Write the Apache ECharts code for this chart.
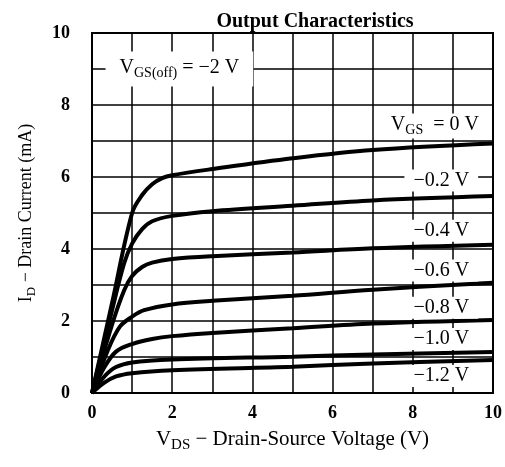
<!DOCTYPE html>
<html>
<head>
<meta charset="utf-8">
<script src="https://cdn.jsdelivr.net/npm/echarts@6/dist/echarts.min.js"></script>
<style>
  html, body { margin: 0; padding: 0; background: #fff; }
  #chart { width: 505px; height: 467px; }
</style>
</head>
<body>
<div id="chart"></div>
<script>
// drain characteristic curves, [V_DS, I_D in mA]
const vgs0 = [[0, 0], [0.5, 2.5], [1, 5.0], [1.25, 5.5], [1.5, 5.8], [1.75, 5.97], [2, 6.05], [3, 6.22], [5, 6.52], [7, 6.75], [10, 6.93]];
const vgsM02 = [[0, 0], [0.5, 2.3], [0.8, 3.6], [1, 4.15], [1.25, 4.55], [1.5, 4.77], [2, 4.92], [3, 5.05], [5, 5.2], [7, 5.35], [10, 5.47]];
const vgsM04 = [[0, 0], [0.5, 1.9], [0.8, 2.85], [1, 3.25], [1.25, 3.5], [1.5, 3.62], [2, 3.72], [3, 3.8], [5, 3.9], [7, 4.02], [10, 4.12]];
const vgsM06 = [[0, 0], [0.4, 1.2], [0.7, 1.85], [1, 2.12], [1.3, 2.3], [2, 2.46], [3, 2.56], [5, 2.7], [7, 2.87], [10, 3.06]];
const vgsM08 = [[0, 0], [0.3, 0.7], [0.6, 1.15], [1, 1.36], [1.5, 1.5], [2, 1.58], [3, 1.67], [5, 1.8], [7, 1.93], [10, 2.03]];
const vgsM10 = [[0, 0], [0.3, 0.45], [0.6, 0.72], [1, 0.85], [2, 0.93], [5, 1.01], [7, 1.07], [10, 1.14]];
const vgsM12 = [[0, 0], [0.3, 0.28], [0.6, 0.46], [1, 0.55], [2, 0.63], [5, 0.73], [7, 0.82], [10, 0.92]];

const curves = [vgs0, vgsM02, vgsM04, vgsM06, vgsM08, vgsM10, vgsM12];

// curve labels: text and where they sit (data coords)
const curveLabels = ["{v|V}{s|GS}{v|  = 0 V}", "−0.2 V", "−0.4 V", "−0.6 V", "−0.8 V", "−1.0 V", "−1.2 V"];
const labelX = [8.55, 8.71, 8.71, 8.71, 8.71, 8.71, 8.71];
const labelY = [7.42, 5.9, 4.51, 3.4, 2.37, 1.5, 0.47];

const offLabel = "{v|V}{s|GS(off)}{v| = −2 V}";
const offPos = [2.18, 9.0];

const serif = "'Liberation Serif', 'DejaVu Serif', serif";

function rich(size, sub) {
  return {
    v: { fontFamily: serif, fontSize: size, color: "#000", verticalAlign: "top", lineHeight: size + 3 },
    s: { fontFamily: serif, fontSize: sub, color: "#000", verticalAlign: "bottom", lineHeight: size + 3, padding: [Math.round(size * 0.5), 0, 0, 0] }
  };
}

const series = curves.map((c) => ({
  type: "line",
  data: c,
  smooth: 0.35,
  symbol: "none",
  lineStyle: { color: "#000", width: 4 },
  z: 3
}));

series.push({
  type: "scatter",
  data: [],
  markPoint: {
    symbol: "rect",
    symbolSize: 0,
    data: curveLabels.map((t, i) => ({
      coord: [labelX[i], labelY[i]],
      label: {
        show: true,
        formatter: t,
        fontFamily: serif,
        fontSize: 20,
        color: "#000",
        backgroundColor: "#fff",
        padding: [1, 9, 1, 9],
        rich: rich(20, 14)
      }
    })).concat([{
      coord: offPos,
      label: {
        show: true,
        formatter: offLabel,
        backgroundColor: "#fff",
        padding: [6, 14, 6, 14],
        rich: rich(20, 14)
      }
    }])
  },
  z: 5
});

const chart = echarts.init(document.getElementById("chart"), null, { renderer: "canvas" });

chart.setOption({
  animation: false,
  backgroundColor: "#fff",
  title: {
    text: "Output Characteristics",
    left: 310,
    top: 7,
    textAlign: "center",
    textStyle: { fontFamily: serif, fontSize: 20, fontWeight: "bold", color: "#000" }
  },
  grid: {
    left: 92, right: 10, top: 33, bottom: 74,
    show: true, borderColor: "#000", borderWidth: 2
  },
  xAxis: {
    type: "value",
    min: 0, max: 10, interval: 2,
    name: "{v|V}{s|DS}{v| − Drain-Source Voltage (V)}",
    nameLocation: "middle",
    nameGap: 33,
    nameTextStyle: { rich: rich(21, 15) },
    axisLine: { show: true, lineStyle: { color: "#000", width: 2 } },
    axisTick: { show: false },
    axisLabel: { margin: 11, fontFamily: serif, fontSize: 18, fontWeight: "bold", color: "#000" },
    splitLine: { show: true, lineStyle: { color: "#000", width: 1.5 } },
    minorTick: { show: false, splitNumber: 2 },
    minorSplitLine: { show: true, lineStyle: { color: "#000", width: 1.5 } }
  },
  yAxis: {
    type: "value",
    min: 0, max: 10, interval: 2,
    name: "{v|I}{s|D}{v| − Drain Current (mA)}",
    nameLocation: "middle",
    nameGap: 54,
    nameRotate: 90,
    nameTextStyle: { rich: rich(18, 13) },
    axisLine: { show: true, lineStyle: { color: "#000", width: 2 } },
    axisTick: { show: false },
    axisLabel: { margin: 22, fontFamily: serif, fontSize: 18, fontWeight: "bold", color: "#000" },
    splitLine: { show: true, lineStyle: { color: "#000", width: 1.5 } },
    minorTick: { show: false, splitNumber: 2 },
    minorSplitLine: { show: true, lineStyle: { color: "#000", width: 1.5 } }
  },
  series
});
</script>
</body>
</html>
